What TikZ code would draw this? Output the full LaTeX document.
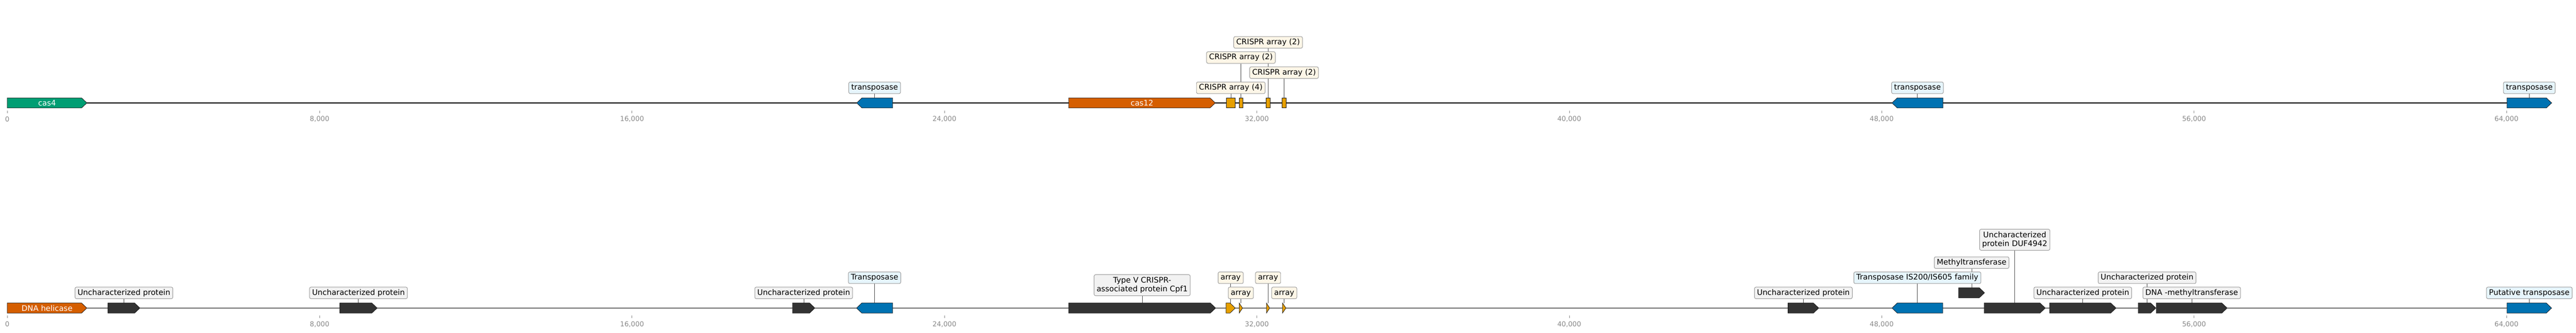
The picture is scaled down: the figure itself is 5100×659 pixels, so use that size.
\documentclass[tikz,border=0pt]{standalone}
\usepackage{fontspec}
\setmainfont{DejaVu Sans}
\usetikzlibrary{backgrounds}

\definecolor{greenface}{HTML}{009E73}
\definecolor{redface}{HTML}{D55E00}
\definecolor{blueface}{HTML}{0072B2}
\definecolor{orangeface}{HTML}{E69F00}
\definecolor{darkface}{HTML}{333333}
\definecolor{bluebox}{HTML}{E6F5FC}
\definecolor{creambox}{HTML}{FDF6E7}
\definecolor{greybox}{HTML}{F2F2F2}
\definecolor{boxedge}{HTML}{999999}
\definecolor{axisgrey}{HTML}{888888}

% gene arrows: name, start, end, track, colour
\newcommand{\fwdgene}[5]{%
    \pgfmathsetmacro{\headlen}{min(10.5,#3-#2)}
    \draw[feat, fill=#5] (#2,#4-10) -- (#3-\headlen,#4-10) -- (#3,#4)
        -- (#3-\headlen,#4+10) -- (#2,#4+10) -- cycle;
    \coordinate (#1) at ({(#2+#3)/2},#4-10);
}
\newcommand{\revgene}[5]{%
    \pgfmathsetmacro{\headlen}{min(10.5,#3-#2)}
    \draw[feat, fill=#5] (#3,#4-10) -- (#2+\headlen,#4-10) -- (#2,#4)
        -- (#2+\headlen,#4+10) -- (#3,#4+10) -- cycle;
    \coordinate (#1) at ({(#2+#3)/2},#4-10);
}
\newcommand{\arraybox}[4]{%
    \draw[feat, fill=orangeface] (#2,#4-10) rectangle (#3,#4+10);
    \coordinate (#1) at ({(#2+#3)/2},#4-10);
}

\begin{document}
\begin{tikzpicture}[
    x = 1pt, y = -1pt, % one unit per pixel, y going down
    backbone/.style = {draw = black, line width = 1.3pt},
    feat/.style = {draw = black!90, line width = 0.8pt},
    conn/.style = {draw = black!70, line width = 0.7pt},
    tick/.style = {draw = axisgrey, line width = 0.8pt},
    ticklab/.style = {text = axisgrey, font = \fontsize{13.5}{16}\selectfont, inner sep = 0pt},
    inlab/.style = {text = white, font = \fontsize{15.2}{16.7}\selectfont, inner sep = 0pt},
    labbase/.style = {draw = boxedge, line width = 1pt, rounded corners = 3pt,
        inner xsep = 5pt, inner ysep = 4pt, font = \fontsize{15.2}{16.7}\selectfont},
    lab/.style = {labbase, text height = 11.5pt, text depth = 3.5pt},
    lab2/.style = {labbase, align = center, minimum height = 41.7pt}
    ]

    \useasboundingbox (0,0) rectangle (5100,659);

    % axes
    \draw[backbone] (14.3,204) -- (5051.7,204);
    \draw[backbone] (14.3,610.5) -- (5051.7,610.5);
    \foreach \k/\t in {0/0, 1/{8,000}, 2/{16,000}, 3/{24,000}, 4/{32,000},
        5/{40,000}, 6/{48,000}, 7/{56,000}, 8/{64,000}} {
        \draw[tick] (14.3+\k*618.5,219) -- (14.3+\k*618.5,224);
        \node[ticklab] (ta\k) at (14.3+\k*618.5,236) {\t};
        \draw[tick] (14.3+\k*618.5,625.5) -- (14.3+\k*618.5,630.5);
        \node[ticklab] (tb\k) at (14.3+\k*618.5,642.5) {\t};
    }

    % first record
    \fwdgene{f1}{14.3}{172}{204}{greenface}
    \node[inlab] (n1) at (f1 |- 0,204) {cas4};
    \revgene{f2}{1696}{1767.3}{204}{blueface}
    \node[lab, fill=bluebox] (l2) at (f2 |- 0,174) {transposase};
    \fwdgene{f3}{2115.8}{2406}{204}{redface}
    \node[inlab] (n3) at (f3 |- 0,204) {cas12};
    \arraybox{f4}{2427.7}{2445.7}{204}
    \node[lab, fill=creambox] (l4) at (f4 |- 0,174) {CRISPR array (4)};
    \arraybox{f5}{2453}{2460.6}{204}
    \node[lab, fill=creambox] (l5) at (f5 |- 0,114) {CRISPR array (2)};
    \arraybox{f6}{2507}{2514.2}{204}
    \node[lab, fill=creambox] (l6) at (f6 |- 0,84) {CRISPR array (2)};
    \arraybox{f7}{2538.3}{2546}{204}
    \node[lab, fill=creambox] (l7) at (f7 |- 0,144) {CRISPR array (2)};
    \revgene{f8}{3745.7}{3846.7}{204}{blueface}
    \node[lab, fill=bluebox] (l8) at (f8 |- 0,174) {transposase};
    \fwdgene{f9}{4963.3}{5051.7}{204}{blueface}
    \node[lab, fill=bluebox] (l9) at (f9 |- 0,174) {transposase};

    % second record
    \fwdgene{g1}{14.3}{172}{610.5}{redface}
    \node[inlab] (p1) at (g1 |- 0,610.5) {DNA helicase};
    \fwdgene{g2}{213.7}{277}{610.5}{darkface}
    \node[lab, fill=greybox] (m2) at (g2 |- 0,580.5) {Uncharacterized protein\ };
    \fwdgene{g3}{672.7}{746.7}{610.5}{darkface}
    \node[lab, fill=greybox] (m3) at (g3 |- 0,580.5) {Uncharacterized protein\ };
    \fwdgene{g4}{1569}{1613.3}{610.5}{darkface}
    \node[lab, fill=greybox] (m4) at (g4 |- 0,580.5) {Uncharacterized protein\ };
    \revgene{g5}{1695.7}{1767.3}{610.5}{blueface}
    \node[lab, fill=bluebox] (m5) at (g5 |- 0,550.5) {Transposase\ };
    \fwdgene{g6}{2115.7}{2406.7}{610.5}{darkface}
    \node[lab2, fill=greybox] (m6) at (g6 |- 0,565.2) {Type V CRISPR-\\associated protein Cpf1};
    \fwdgene{g7}{2427.3}{2445.7}{610.5}{orangeface}
    \node[lab, fill=creambox] (m7) at (g7 |- 0,550.5) {array};
    \fwdgene{g8}{2453.3}{2460}{610.5}{orangeface}
    \node[lab, fill=creambox] (m8) at (g8 |- 0,580.5) {array};
    \fwdgene{g9}{2507.3}{2513.7}{610.5}{orangeface}
    \node[lab, fill=creambox] (m9) at (g9 |- 0,550.5) {array};
    \fwdgene{g10}{2539}{2546}{610.5}{orangeface}
    \node[lab, fill=creambox] (m10) at (g10 |- 0,580.5) {array};
    \fwdgene{g11}{3540}{3600.7}{610.5}{darkface}
    \node[lab, fill=greybox] (m11) at (g11 |- 0,580.5) {Uncharacterized protein\ };
    \revgene{g12}{3745.7}{3846.3}{610.5}{blueface}
    \node[lab, fill=bluebox] (m12) at (g12 |- 0,550.5) {Transposase IS200/IS605 family};
    \fwdgene{g13}{3877.7}{3929}{580.2}{darkface}
    \node[lab, fill=greybox] (m13) at (g13 |- 0,520.5) {Methyltransferase\ };
    \fwdgene{g14}{3928.3}{4049.3}{610.5}{darkface}
    \node[lab2, fill=greybox] (m14) at (g14 |- 0,475.2) {Uncharacterized\\protein DUF4942};
    \fwdgene{g15}{4057.7}{4189.3}{610.5}{darkface}
    \node[lab, fill=greybox] (m15) at (g15 |- 0,580.5) {Uncharacterized protein\ };
    \fwdgene{g16}{4233.3}{4268.3}{610.5}{darkface}
    \node[lab, fill=greybox] (m16) at (g16 |- 0,550.5) {Uncharacterized protein\ };
    \fwdgene{g17}{4269}{4409.3}{610.5}{darkface}
    \node[lab, fill=greybox] (m17) at (g17 |- 0,580.5) {DNA -methyltransferase\ };
    \fwdgene{g18}{4963.3}{5051.7}{610.5}{blueface}
    \node[lab, fill=bluebox] (m18) at (g18 |- 0,580.5) {Putative transposase\ };

    % label connectors, behind the boxes
    \begin{scope}[on background layer]
        \foreach \a/\b in {l2/f2, l4/f4, l5/f5, l6/f6, l7/f7, l8/f8, l9/f9,
            m2/g2, m3/g3, m4/g4, m5/g5, m6/g6, m7/g7, m8/g8, m9/g9, m10/g10,
            m11/g11, m12/g12, m13/g13, m14/g14, m15/g15, m16/g16, m17/g17, m18/g18}
            \draw[conn] (\a.south) -- (\b);
    \end{scope}
\end{tikzpicture}
\end{document}
